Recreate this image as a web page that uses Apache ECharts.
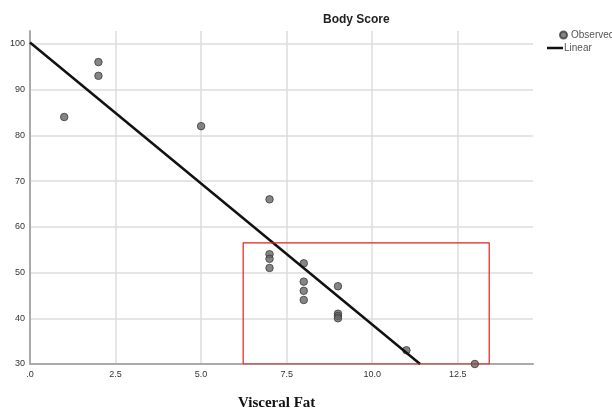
<!DOCTYPE html>
<html>
<head>
<meta charset="utf-8">
<script src="https://cdn.jsdelivr.net/npm/echarts@6/dist/echarts.min.js"></script>
<style>
  html, body { margin: 0; padding: 0; background: #fff; }
  #chart { width: 612px; height: 417px; }
</style>
</head>
<body>
<div id="chart"></div>
<script>
// observed points: visceral fat vs body score
var fatValues = [1, 2, 2, 5, 7, 7, 7, 7, 8, 8, 8, 8, 9, 9, 9, 9, 11, 13];
var scoreValues = [84, 96, 93, 82, 66, 54, 53, 51, 52, 48, 46, 44, 47, 41, 40.5, 40, 33, 30];
// fitted linear line, two end points
var lineX = [0, 11.4];
var lineY = [100.3, 30];
// highlighted area (red box)
var boxX = [6.23, 13.42];
var boxY = [30, 56.5];

var xTicks = [0, 2.5, 5, 7.5, 10, 12.5];

var observed = fatValues.map(function(v, i) { return [v, scoreValues[i]]; });
var linear = lineX.map(function(v, i) { return [v, lineY[i]]; });
var box = [
	[boxX[0], boxY[0]], [boxX[0], boxY[1]], [boxX[1], boxY[1]],
	[boxX[1], boxY[0]], [boxX[0], boxY[0]]
];

var chart = echarts.init(document.getElementById('chart'));
chart.setOption({
	animation: false,
	textStyle: { fontFamily: 'Liberation Sans, Arial, sans-serif' },
	grid: { left: 30, right: 79, top: 31, bottom: 53 },
	title: {
		text: 'Body Score',
		left: 318, top: 9,
		textStyle: { fontSize: 12, fontWeight: 'bold', color: '#222' }
	},
	legend: [{
		left: 559, top: 30, padding: 0,
		itemWidth: 7, itemHeight: 7, itemGap: 0,
		textStyle: { fontSize: 10, color: '#555', padding: [0, 0, 0, -1] },
		data: [{ name: 'Observed', icon: 'circle' }]
	}, {
		left: 547, top: 43, padding: 0,
		itemWidth: 16, itemHeight: 2.5,
		textStyle: { fontSize: 10, color: '#555', padding: [0, 0, 0, -4] },
		data: [{ name: 'Linear', icon: 'rect' }]
	}],
	xAxis: {
		type: 'value',
		min: 0, max: 14.7, interval: 2.5,
		axisLine: { show: true, onZero: false, lineStyle: { color: '#aaa', width: 2 } },
		axisTick: { show: false },
		splitLine: { show: true, showMinLine: false, showMaxLine: false, lineStyle: { color: '#ddd', width: 1.5 } },
		axisLabel: {
			fontSize: 9, color: '#333', margin: 6, showMaxLabel: false,
			formatter: function(v) {
				if (xTicks.indexOf(v) < 0) return '';
				return v === 0 ? '.0' : v.toFixed(1);
			}
		}
	},
	yAxis: {
		type: 'value',
		min: 30, max: 102.8, interval: 10,
		axisLine: { show: true, onZero: false, lineStyle: { color: '#aaa', width: 2 } },
		axisTick: { show: false },
		splitLine: { show: true, showMinLine: false, showMaxLine: false, lineStyle: { color: '#ddd', width: 1.5 } },
		axisLabel: { fontSize: 9, color: '#333', margin: 5, showMaxLabel: false }
	},
	graphic: [{
		type: 'text',
		left: 238, top: 396,
		style: {
			text: 'Visceral Fat',
			font: 'bold 15px "Liberation Serif", "Times New Roman", serif',
			fill: '#111'
		}
	}],
	series: [{
		name: 'Observed',
		type: 'scatter',
		data: observed,
		symbolSize: 7.5,
		itemStyle: { color: '#666', borderColor: '#3a3a3a', borderWidth: 1 }
	}, {
		name: 'Linear',
		type: 'line',
		data: linear,
		symbol: 'none',
		lineStyle: { color: '#111', width: 2.5 },
		itemStyle: { color: '#111' },
		z: 3
	}, {
		name: 'box',
		type: 'line',
		data: box,
		symbol: 'none',
		silent: true,
		lineStyle: { color: '#e41e1e', width: 1.2 },
		z: 4
	}]
});
</script>
</body>
</html>
